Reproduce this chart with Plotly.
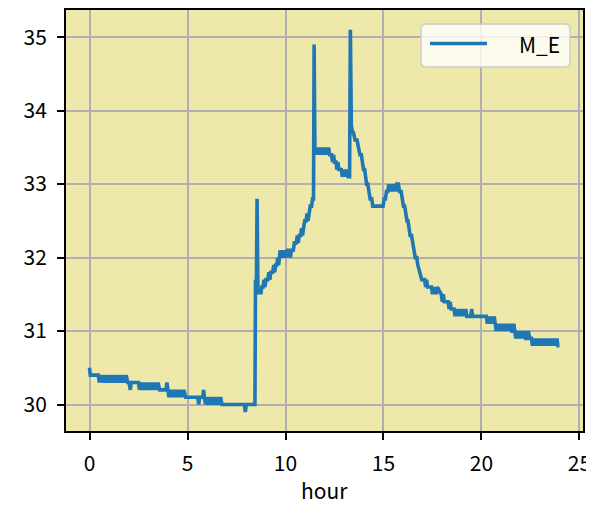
import plotly.graph_objects as go

# M_E readings over one day (hour of day, value)
hours = [
    0.00, 0.04, 0.45, 0.50, 0.55, 0.62, 0.67, 0.75, 0.80, 0.88, 0.93, 1.02, 1.07, 1.15, 1.20,
    1.28, 1.33, 1.42, 1.47, 1.55, 1.60, 1.68, 1.73, 1.82, 1.87, 1.95, 2.02, 2.08, 2.13, 2.50,
    2.55, 2.60, 2.67, 2.72, 2.80, 2.85, 2.93, 2.98, 3.06, 3.11, 3.19, 3.24, 3.32, 3.37, 3.45,
    3.50, 3.58, 3.63, 3.90, 3.95, 4.00, 4.05, 4.10, 4.17, 4.22, 4.29, 4.34, 4.41, 4.46, 4.53,
    4.58, 4.65, 4.70, 4.77, 4.82, 4.90, 4.95, 5.52, 5.57, 5.62, 5.78, 5.82, 5.86, 5.92, 5.97,
    6.04, 6.09, 6.16, 6.21, 6.28, 6.33, 6.40, 6.45, 6.52, 6.57, 6.64, 6.69, 6.76, 6.82, 7.90,
    7.95, 8.00, 8.44, 8.47, 8.51, 8.55, 8.59, 8.64, 8.69, 8.74, 8.79, 8.86, 8.90, 8.95, 9.00,
    9.10, 9.15, 9.20, 9.25, 9.35, 9.40, 9.45, 9.50, 9.56, 9.60, 9.65, 9.70, 9.73, 9.80, 9.85,
    9.92, 9.97, 10.05, 10.10, 10.20, 10.25, 10.30, 10.40, 10.45, 10.55, 10.60, 10.65, 10.70, 10.78, 10.82,
    10.87, 10.92, 10.98, 11.05, 11.10, 11.15, 11.20, 11.26, 11.33, 11.38, 11.43, 11.46, 11.50, 11.55, 11.60,
    11.65, 11.70, 11.75, 11.80, 11.85, 11.90, 11.95, 12.00, 12.05, 12.10, 12.15, 12.20, 12.25, 12.35, 12.40,
    12.45, 12.50, 12.58, 12.62, 12.68, 12.72, 12.85, 12.90, 12.95, 13.00, 13.05, 13.10, 13.15, 13.20, 13.27,
    13.31, 13.36, 13.42, 13.47, 13.55, 13.65, 13.72, 13.80, 13.87, 13.92, 13.98, 14.04, 14.08, 14.14, 14.20,
    14.25, 14.32, 14.40, 14.45, 14.98, 15.03, 15.10, 15.15, 15.22, 15.27, 15.32, 15.37, 15.42, 15.47, 15.52,
    15.57, 15.62, 15.67, 15.76, 15.82, 15.90, 15.95, 16.02, 16.08, 16.12, 16.20, 16.25, 16.30, 16.36, 16.43,
    16.48, 16.55, 16.62, 16.70, 16.75, 16.85, 16.95, 17.10, 17.15, 17.20, 17.25, 17.45, 17.50, 17.55, 17.60,
    17.65, 17.70, 17.75, 17.95, 18.00, 18.05, 18.10, 18.30, 18.35, 18.40, 18.45, 18.60, 18.65, 18.70, 18.75,
    18.80, 18.85, 18.90, 18.95, 19.00, 19.05, 19.10, 19.15, 19.20, 19.25, 19.45, 19.50, 19.55, 20.25, 20.30,
    20.35, 20.40, 20.45, 20.50, 20.55, 20.60, 20.65, 20.70, 20.75, 20.80, 20.85, 20.90, 20.95, 21.00, 21.05,
    21.10, 21.15, 21.20, 21.25, 21.30, 21.35, 21.40, 21.45, 21.50, 21.55, 21.60, 21.65, 21.70, 21.75, 21.80,
    21.85, 21.90, 21.95, 22.00, 22.05, 22.10, 22.15, 22.20, 22.25, 22.30, 22.35, 22.40, 22.45, 22.50, 22.55,
    22.60, 22.65, 22.70, 22.75, 22.80, 22.85, 22.90, 22.95, 23.00, 23.05, 23.10, 23.15, 23.20, 23.25, 23.30,
    23.35, 23.40, 23.45, 23.50, 23.55, 23.60, 23.65, 23.70, 23.75, 23.80, 23.85, 23.90, 23.98,
]
m_e = [
    30.5, 30.4, 30.4, 30.3, 30.4, 30.3, 30.4, 30.3, 30.4, 30.3, 30.4, 30.3, 30.4, 30.3, 30.4,
    30.3, 30.4, 30.3, 30.4, 30.3, 30.4, 30.3, 30.4, 30.3, 30.4, 30.3, 30.3, 30.2, 30.3, 30.3,
    30.2, 30.3, 30.2, 30.3, 30.2, 30.3, 30.2, 30.3, 30.2, 30.3, 30.2, 30.3, 30.2, 30.3, 30.2,
    30.3, 30.2, 30.2, 30.2, 30.3, 30.2, 30.1, 30.2, 30.1, 30.2, 30.1, 30.2, 30.1, 30.2, 30.1,
    30.2, 30.1, 30.2, 30.1, 30.2, 30.1, 30.1, 30.1, 30.0, 30.1, 30.1, 30.2, 30.1, 30.0, 30.1,
    30.0, 30.1, 30.0, 30.1, 30.0, 30.1, 30.0, 30.1, 30.0, 30.1, 30.0, 30.1, 30.0, 30.0, 30.0,
    29.9, 30.0, 30.0, 31.7, 31.5, 32.8, 31.6, 31.5, 31.6, 31.5, 31.6, 31.6, 31.7, 31.6, 31.7,
    31.7, 31.8, 31.7, 31.8, 31.8, 31.9, 31.8, 31.9, 31.9, 32.0, 31.9, 32.0, 32.1, 32.0, 32.1,
    32.0, 32.1, 32.0, 32.1, 32.1, 32.0, 32.1, 32.1, 32.2, 32.2, 32.3, 32.2, 32.3, 32.3, 32.4,
    32.3, 32.4, 32.5, 32.5, 32.6, 32.5, 32.6, 32.7, 32.7, 32.8, 32.8, 34.9, 33.5, 33.4, 33.5,
    33.4, 33.5, 33.4, 33.5, 33.4, 33.5, 33.4, 33.5, 33.4, 33.5, 33.4, 33.5, 33.4, 33.4, 33.3,
    33.4, 33.3, 33.3, 33.2, 33.3, 33.2, 33.2, 33.1, 33.2, 33.1, 33.2, 33.1, 33.2, 33.1, 33.1,
    35.1, 33.8, 33.7, 33.7, 33.6, 33.6, 33.5, 33.4, 33.4, 33.3, 33.2, 33.2, 33.1, 33.0, 33.0,
    32.9, 32.8, 32.8, 32.7, 32.7, 32.8, 32.8, 32.9, 32.9, 33.0, 32.9, 33.0, 32.9, 33.0, 32.9,
    33.0, 32.9, 33.0, 33.0, 32.9, 32.9, 32.8, 32.7, 32.7, 32.6, 32.5, 32.5, 32.4, 32.3, 32.3,
    32.2, 32.1, 32.0, 32.0, 31.9, 31.8, 31.7, 31.7, 31.6, 31.7, 31.6, 31.6, 31.5, 31.6, 31.5,
    31.6, 31.5, 31.6, 31.5, 31.4, 31.5, 31.4, 31.4, 31.3, 31.4, 31.3, 31.3, 31.2, 31.3, 31.2,
    31.3, 31.2, 31.3, 31.2, 31.3, 31.2, 31.3, 31.2, 31.3, 31.2, 31.2, 31.3, 31.2, 31.2, 31.1,
    31.2, 31.1, 31.2, 31.1, 31.2, 31.1, 31.2, 31.1, 31.0, 31.1, 31.0, 31.1, 31.0, 31.1, 31.0,
    31.1, 31.0, 31.1, 31.0, 31.1, 31.0, 31.1, 31.0, 31.1, 31.0, 31.0, 31.1, 31.0, 30.9, 31.0,
    30.9, 31.0, 30.9, 31.0, 30.9, 31.0, 30.9, 31.0, 30.9, 30.9, 30.9, 31.0, 30.9, 30.9, 30.9,
    30.8, 30.9, 30.8, 30.9, 30.8, 30.9, 30.8, 30.9, 30.8, 30.9, 30.8, 30.9, 30.8, 30.9, 30.8,
    30.9, 30.8, 30.9, 30.8, 30.9, 30.8, 30.9, 30.8, 30.9, 30.8, 30.9, 30.8, 30.8,
]

x_ticks = [0, 5, 10, 15, 20, 25]
y_ticks = [30, 31, 32, 33, 34, 35]

FONT = "Noto Sans CJK JP, DejaVu Sans, sans-serif"
PAGE = 8  # default body margin of the html page
W, H = 594 - PAGE, 510 - PAGE
L, R, T, B = 66 - PAGE, 11, 10 - PAGE, 79
pw, ph = W - L - R, H - T - B


def px(x):
    # window pixel -> paper fraction
    return (x - PAGE - L) / pw


def py(y):
    return (H - B - (y - PAGE)) / ph


def rounded_box(x0, y0, x1, y1, r):
    # rounded rectangle path in paper coords, pixel inputs
    rx, ry = r / pw, r / ph
    a, b, c, d = px(x0), px(x1), py(y1), py(y0)
    return (f"M{a+rx},{c} L{b-rx},{c} Q{b},{c} {b},{c+ry} L{b},{d-ry} Q{b},{d} {b-rx},{d} "
            f"L{a+rx},{d} Q{a},{d} {a},{d-ry} L{a},{c+ry} Q{a},{c} {a+rx},{c} Z")


fig = go.Figure()
fig.add_trace(go.Scatter(x=hours, y=m_e, mode="lines", name="M_E",
                         line=dict(color="#1f77b4", width=3.6), showlegend=False))

axis_style = dict(
    showgrid=True, gridcolor="#b0b0b0", gridwidth=1.8,
    showline=True, linecolor="black", linewidth=1.8, mirror=True,
    ticks="outside", ticklen=7, tickwidth=1.8, tickcolor="black",
    tickfont=dict(family=FONT, size=21, color="black"),
    zeroline=False, automargin=False,
)

fig.update_layout(
    width=W, height=H,
    margin=dict(l=L, r=R, t=T, b=B),
    paper_bgcolor="white",
    plot_bgcolor="#eee8aa",
    font=dict(family=FONT, color="black"),
    xaxis=dict(range=[-1.2, 25.18], tickvals=x_ticks, ticklabelstandoff=6, **axis_style),
    yaxis=dict(range=[29.64, 35.37], tickvals=y_ticks, ticklabelstandoff=6, **axis_style),
    shapes=[
        dict(type="path", xref="paper", yref="paper",
             path=rounded_box(421, 24, 570, 67, 5),
             fillcolor="rgba(255,255,255,0.8)", line=dict(color="rgba(204,204,204,0.8)", width=1.8)),
        dict(type="line", xref="paper", yref="paper",
             x0=px(430), x1=px(487), y0=py(43.5), y1=py(43.5),
             line=dict(color="#1f77b4", width=3.6)),
    ],
    annotations=[
        dict(text="M_E", xref="paper", yref="paper", x=px(539), y=py(44),
             xanchor="center", yanchor="middle", showarrow=False,
             font=dict(family=FONT, size=21, color="black")),
        # x axis title
        dict(text="hour", xref="paper", yref="paper", x=0.5, y=py(490),
             xanchor="center", yanchor="middle", showarrow=False,
             font=dict(family=FONT, size=21, color="black")),
    ],
)

fig.write_html("out.html")
